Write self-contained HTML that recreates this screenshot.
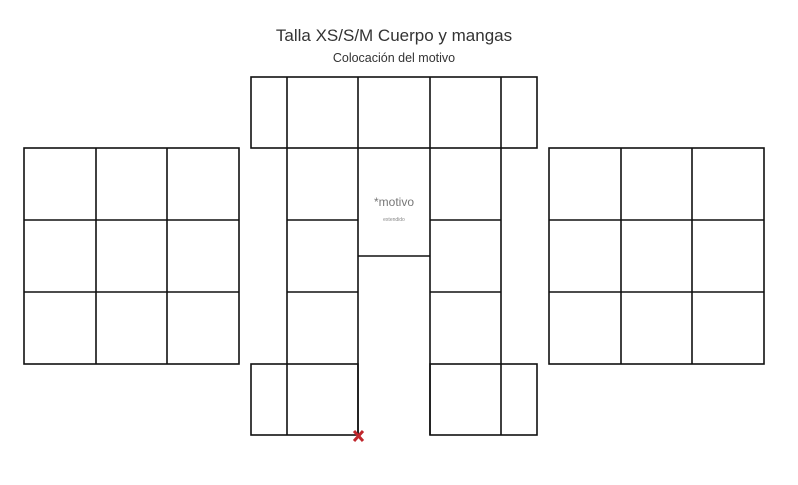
<!DOCTYPE html>
<html><head><meta charset="utf-8"><style>
body{margin:0;background:#fff;width:798px;height:480px;overflow:hidden}
</style></head><body>
<svg width="798" height="480" viewBox="0 0 798 480" xmlns="http://www.w3.org/2000/svg">
<g font-family="Liberation Sans, sans-serif" text-anchor="middle">
<text x="394" y="41" font-size="17" fill="#333">Talla XS/S/M Cuerpo y mangas</text>
<text x="394" y="62" font-size="12.5" fill="#333">Colocación del motivo</text>
<text x="394" y="206" font-size="12" fill="#777">*motivo</text>
<text x="394" y="221" font-size="5" fill="#888">extendido</text>
</g>
<g stroke="#111" stroke-width="1.6" fill="none">
<rect x="24" y="148" width="215" height="216"/>
<line x1="96" y1="148" x2="96" y2="364"/><line x1="167" y1="148" x2="167" y2="364"/>
<line x1="24" y1="220" x2="239" y2="220"/><line x1="24" y1="292" x2="239" y2="292"/>
<rect x="549" y="148" width="215" height="216"/>
<line x1="621" y1="148" x2="621" y2="364"/><line x1="692" y1="148" x2="692" y2="364"/>
<line x1="549" y1="220" x2="764" y2="220"/><line x1="549" y1="292" x2="764" y2="292"/>
<rect x="251" y="77" width="286" height="71"/>
<line x1="287" y1="77" x2="287" y2="435"/>
<line x1="358" y1="77" x2="358" y2="435"/>
<line x1="430" y1="77" x2="430" y2="435"/>
<line x1="501" y1="77" x2="501" y2="435"/>
<line x1="287" y1="220" x2="358" y2="220"/><line x1="430" y1="220" x2="501" y2="220"/>
<line x1="287" y1="292" x2="358" y2="292"/><line x1="430" y1="292" x2="501" y2="292"/>
<line x1="358" y1="256" x2="430" y2="256"/>
<rect x="251" y="364" width="107" height="71"/>
<rect x="430" y="364" width="107" height="71"/>
</g>
<g stroke="#c0272d" stroke-width="3">
<line x1="354" y1="431" x2="363" y2="441"/><line x1="363" y1="431" x2="354" y2="441"/>
</g>
</svg>
</body></html>
